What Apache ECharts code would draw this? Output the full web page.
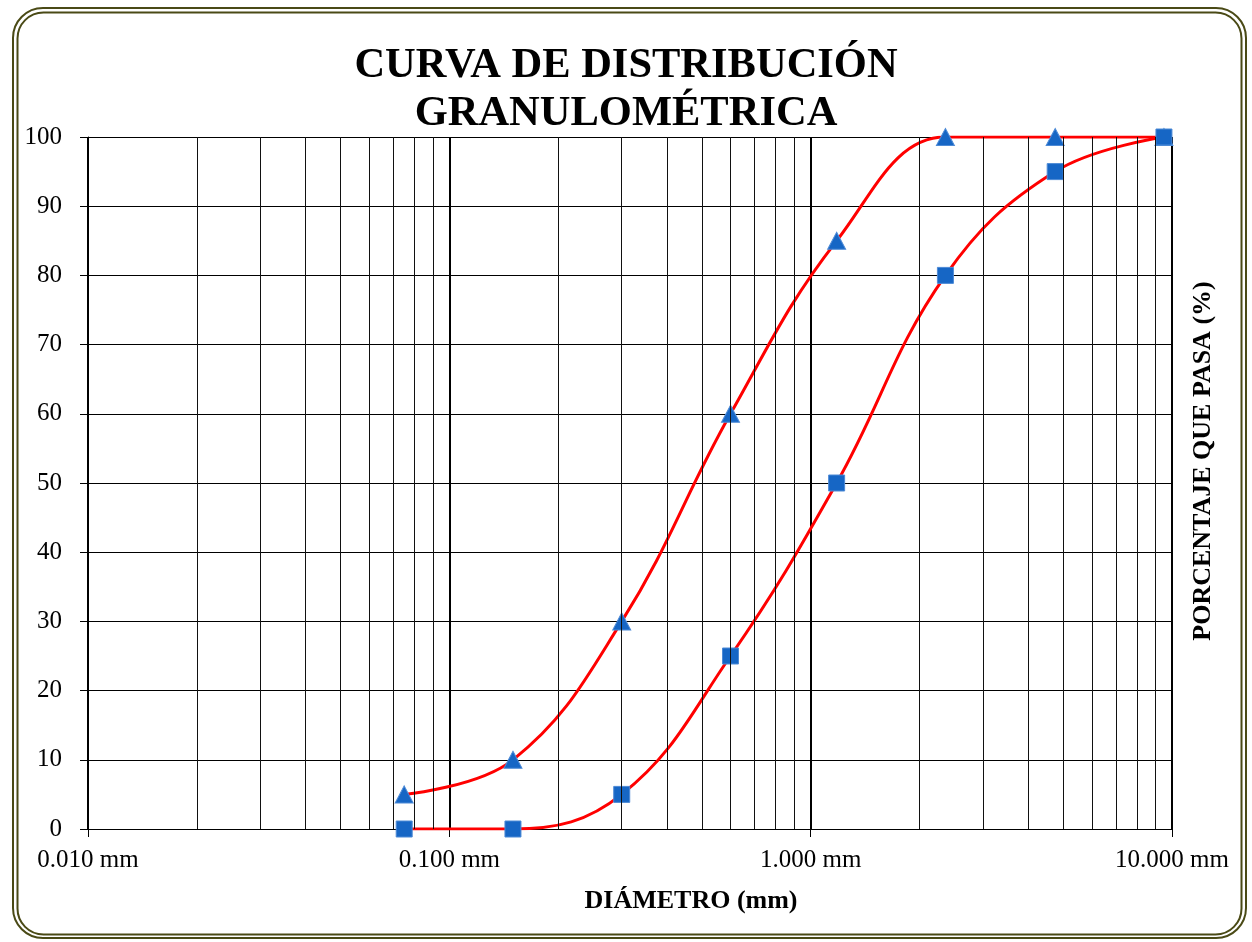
<!DOCTYPE html>
<html>
<head>
<meta charset="utf-8">
<script src="https://cdn.jsdelivr.net/npm/echarts@6/dist/echarts.min.js"></script>
<style>
html,body{margin:0;padding:0;background:#fff;}
#c{width:1252px;height:942px;}
</style>
</head>
<body>
<div id="c"></div>
<script>
// Sieve diameters (mm)
const diameters = [0.075, 0.15, 0.3, 0.6, 1.18, 2.36, 4.75, 9.5];
// % passing, series 1 (triangles) and series 2 (squares)
const passingTri = [5, 10, 30, 60, 85, 100, 100, 100];
const passingSq = [0, 0, 5, 25, 50, 80, 95, 100];
// minor log grid positions
const minorGrid = [0.02,0.03,0.04,0.05,0.06,0.07,0.08,0.09,
                   0.2,0.3,0.4,0.5,0.6,0.7,0.8,0.9,
                   2,3,4,5,6,7,8,9];
const yTicks = [0,10,20,30,40,50,60,70,80,90,100];

const FONT = '"Liberation Serif","Times New Roman",serif';
const chart = echarts.init(document.getElementById('c'), null, {renderer:'canvas'});

const pairs = (ys) => diameters.map((d,i)=>[d, ys[i]]);

chart.setOption({
  animation:false,
  backgroundColor:'#fff',
  title:{
    text:'CURVA DE DISTRIBUCIÓN\nGRANULOMÉTRICA',
    left:'center', top:37,
    textStyle:{fontFamily:FONT, fontWeight:'bold', fontSize:42.5, lineHeight:48, color:'#000'}
  },
  grid:{left:88, right:80, top:137, bottom:113, containLabel:false},
  xAxis:{
    type:'log', logBase:10, min:0.01, max:10,
    axisLine:{show:true, onZero:false, lineStyle:{color:'#000', width:1}},
    axisTick:{show:true, inside:false, length:8, lineStyle:{color:'#000', width:1}},
    axisLabel:{margin:19, fontFamily:FONT, fontSize:25, color:'#000',
      formatter:(v)=> Number(v).toFixed(3)+' mm'},
    splitLine:{show:true, lineStyle:{color:'#000', width:2}}
  },
  yAxis:{
    type:'value', min:0, max:100, interval:10,
    axisLine:{show:true, lineStyle:{color:'#000', width:1}},
    axisTick:{show:true, inside:false, length:8, lineStyle:{color:'#000', width:1}},
    axisLabel:{margin:26, fontFamily:FONT, fontSize:25, color:'#000',
      formatter:(v)=> yTicks.includes(v) ? String(v) : ''},
    splitLine:{show:true, lineStyle:{color:'#000', width:1}}
  },
  graphic:[
    {type:'rect', silent:true, shape:{x:13, y:8, width:1233, height:930, r:30},
     style:{fill:null, stroke:'#4a4a16', lineWidth:2}},
    {type:'rect', silent:true, shape:{x:17.5, y:12.5, width:1224, height:922, r:26},
     style:{fill:null, stroke:'#4a4a16', lineWidth:2}},
    {type:'text', x:691, y:901, silent:true,
     style:{text:'DIÁMETRO (mm)', font:'bold 26px '+FONT, fill:'#000',
       align:'center', verticalAlign:'middle'}},
    {type:'text', silent:true, x:1203, y:461, rotation:Math.PI/2,
     style:{text:'PORCENTAJE QUE PASA (%)', font:'bold 26px '+FONT, fill:'#000',
       align:'center', verticalAlign:'middle'}}
  ],
  series:[
    {
      type:'line', data:[], z:1, silent:true,
      markLine:{
        silent:true, symbol:['none','none'], animation:false,
        label:{show:false},
        lineStyle:{color:'#111', width:1, type:'solid'},
        emphasis:{disabled:true},
        data: minorGrid.map(v=>({xAxis:v}))
      }
    },
    {
      name:'Serie 1', type:'line', z:3,
      data: pairs(passingTri),
      smooth:0.4,
      symbol:'triangle', symbolSize:[18,17],
      lineStyle:{color:'#ff0000', width:3},
      itemStyle:{color:'#1666c5', borderColor:'#4d8ad6', borderWidth:1}
    },
    {
      name:'Serie 2', type:'line', z:3,
      data: pairs(passingSq),
      smooth:0.4,
      symbol:'rect', symbolSize:16,
      lineStyle:{color:'#ff0000', width:3},
      itemStyle:{color:'#1666c5', borderColor:'#4d8ad6', borderWidth:1}
    }
  ]
});
</script>
</body>
</html>
